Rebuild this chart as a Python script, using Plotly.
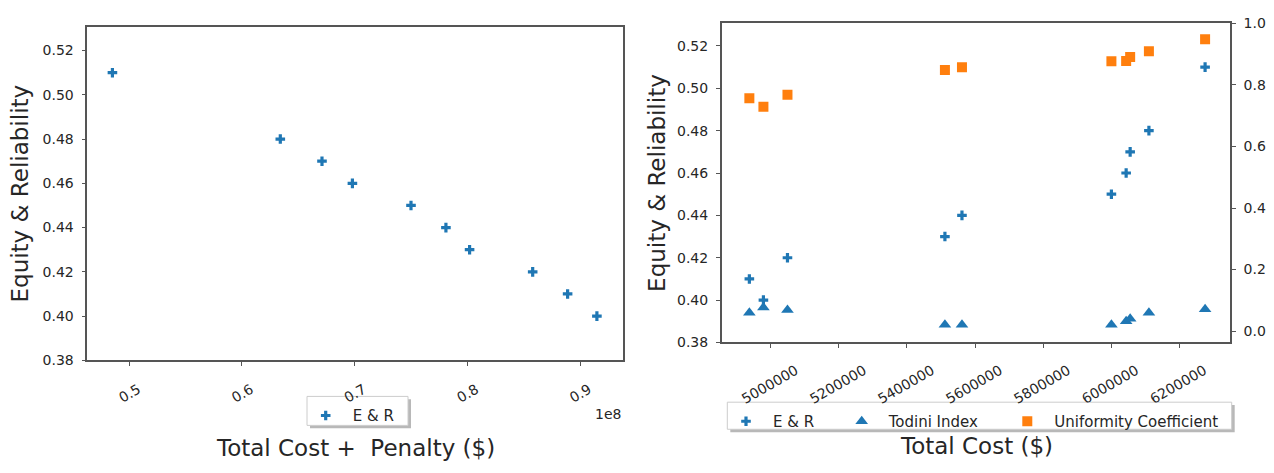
import plotly.graph_objects as go

# ---- data -------------------------------------------------------------
# Left panel: total cost + penalty vs. equity & reliability
cost_penalty = [0.485e8, 0.634e8, 0.671e8, 0.698e8, 0.750e8,
                0.781e8, 0.802e8, 0.858e8, 0.889e8, 0.915e8]
er_left = [0.51, 0.48, 0.47, 0.46, 0.45, 0.44, 0.43, 0.42, 0.41, 0.40]
left_xticks = [0.5e8, 0.6e8, 0.7e8, 0.8e8, 0.9e8]
left_xticklabels = ["0.5", "0.6", "0.7", "0.8", "0.9"]

# Right panel: total cost vs. E&R (left axis) and two indices (right axis)
total_cost = [4936900, 4978200, 5048900, 5511600, 5561700,
              6000900, 6044200, 6056000, 6111100, 6276200]
er_right = [0.41, 0.40, 0.42, 0.43, 0.44, 0.45, 0.46, 0.47, 0.48, 0.51]
todini = [0.060, 0.077, 0.069, 0.021, 0.021, 0.021, 0.032, 0.040, 0.060, 0.071]
uniformity = [0.757, 0.729, 0.768, 0.849, 0.858, 0.877, 0.878, 0.891, 0.910, 0.949]
right_xticks = [5000000, 5200000, 5400000, 5600000, 5800000, 6000000, 6200000]

er_yticks = [0.38, 0.40, 0.42, 0.44, 0.46, 0.48, 0.50, 0.52]
idx_yticks = [0.0, 0.2, 0.4, 0.6, 0.8, 1.0]

# ---- styling ----------------------------------------------------------
W, H = 1274, 473
BLUE = "#1f77b4"
ORANGE = "#ff7f0e"
FONT = "DejaVu Sans"
TXT = "#262626"
SPINE = "#555555"


def fx(p):
    return p / W


def fy(p):
    return 1 - p / H


fig = go.Figure()

cross = dict(symbol="cross", size=8, color=BLUE, line=dict(width=0))
tri = dict(symbol="triangle-up", size=11, color=BLUE, line=dict(width=0))
sq = dict(symbol="square", size=10, color=ORANGE, line=dict(width=0))

fig.add_trace(go.Scatter(
    x=cost_penalty, y=er_left, mode="markers", name="E & R", marker=cross,
    xaxis="x", yaxis="y", legend="legend", showlegend=True,
))
fig.add_trace(go.Scatter(
    x=total_cost, y=er_right, mode="markers", name="E & R", marker=cross,
    xaxis="x2", yaxis="y2", legend="legend2", showlegend=True,
))
fig.add_trace(go.Scatter(
    x=total_cost, y=todini, mode="markers", name="Todini Index", marker=tri,
    xaxis="x2", yaxis="y3", legend="legend3", showlegend=True,
))
fig.add_trace(go.Scatter(
    x=total_cost, y=uniformity, mode="markers", name="Uniformity Coefficient",
    marker=sq, xaxis="x2", yaxis="y3", legend="legend4", showlegend=True,
))

axis_common = dict(
    showgrid=False, zeroline=False, showline=True, linecolor=SPINE,
    linewidth=1.5, ticks="outside", ticklen=4, tickwidth=1, tickcolor=SPINE,
    tickfont=dict(family=FONT, size=14, color=TXT),
)

legend_common = dict(
    orientation="h", bgcolor="rgba(0,0,0,0)", borderwidth=0,
    font=dict(family=FONT, size=15, color=TXT), itemwidth=44,
    xanchor="left", yanchor="middle",
)

fig.update_layout(
    width=W, height=H,
    margin=dict(l=0, r=0, t=0, b=0),
    paper_bgcolor="white", plot_bgcolor="white",
    font=dict(family=FONT, color=TXT),
    showlegend=True,
    xaxis=dict(axis_common, domain=[fx(87.3), fx(622.7)],
               range=[0.4627e8, 0.9379e8], mirror=True,
               tickvals=left_xticks, ticktext=left_xticklabels,
               tickangle=-30, ticklabelshift=9, ticklabelstandoff=10,
               anchor="y"),
    yaxis=dict(axis_common, domain=[fy(364.7), fy(20)],
               range=[0.38, 0.5305], mirror=True, ticklabelstandoff=5,
               tickvals=er_yticks, tickformat=".2f", anchor="x"),
    xaxis2=dict(axis_common, domain=[fx(721.7), fx(1230)],
                range=[4855600, 6349400], mirror=True,
                tickvals=right_xticks, tickformat="d",
                tickangle=-30, ticklabelshift=25, ticklabelstandoff=9,
                anchor="y2"),
    yaxis2=dict(axis_common, domain=[fy(346.2), fy(16)],
                range=[0.38, 0.5306], mirror=True, ticklabelstandoff=5,
                tickvals=er_yticks, tickformat=".2f", anchor="x2"),
    yaxis3=dict(axis_common, domain=[fy(346.2), fy(16)],
                range=[-0.037, 1.0], overlaying="y2", side="right",
                ticklabelstandoff=5,
                tickvals=idx_yticks, tickformat=".1f", anchor="x2"),
    legend=dict(legend_common, x=fx(325.7 - 27), y=fy(422)),
    legend2=dict(legend_common, x=fx(746 - 27), y=fy(428)),
    legend3=dict(legend_common, x=fx(861.7 - 27), y=fy(428)),
    legend4=dict(legend_common, x=fx(1027.3 - 27), y=fy(428)),
)

# legend frames with drop shadows
for (x0, y0, x1, y1) in [(307, 402, 408, 432), (727.3, 408, 1231.7, 436)]:
    fig.add_shape(type="rect", xref="paper", yref="paper",
                  x0=fx(x0 + 3), x1=fx(x1 + 3), y0=fy(y1 + 3), y1=fy(y0 + 3),
                  line=dict(width=0), fillcolor="rgba(0,0,0,0.28)", layer="below")
    fig.add_shape(type="rect", xref="paper", yref="paper",
                  x0=fx(x0), x1=fx(x1), y0=fy(y1), y1=fy(y0),
                  line=dict(width=1, color="#cccccc"), fillcolor="white",
                  layer="below")

title_font = dict(family=FONT, size=23, color=TXT)
fig.add_annotation(text="Equity & Reliability", xref="paper", yref="paper",
                   x=fx(20), y=fy(192), textangle=-90, showarrow=False,
                   font=title_font, xanchor="center", yanchor="middle")
fig.add_annotation(text="Equity & Reliability", xref="paper", yref="paper",
                   x=fx(657), y=fy(181), textangle=-90, showarrow=False,
                   font=title_font, xanchor="center", yanchor="middle")
fig.add_annotation(text="Total Cost +  Penalty ($)", xref="paper", yref="paper",
                   x=fx(355), y=fy(455), showarrow=False, font=title_font,
                   xanchor="center", yanchor="middle")
fig.add_annotation(text="Total Cost ($)", xref="paper", yref="paper",
                   x=fx(976), y=fy(453), showarrow=False, font=title_font,
                   xanchor="center", yanchor="middle")
fig.add_annotation(text="1e8", xref="paper", yref="paper",
                   x=fx(622.7), y=fy(420), showarrow=False,
                   font=dict(family=FONT, size=14, color=TXT),
                   xanchor="right", yanchor="middle")

fig.write_html("out.html")
